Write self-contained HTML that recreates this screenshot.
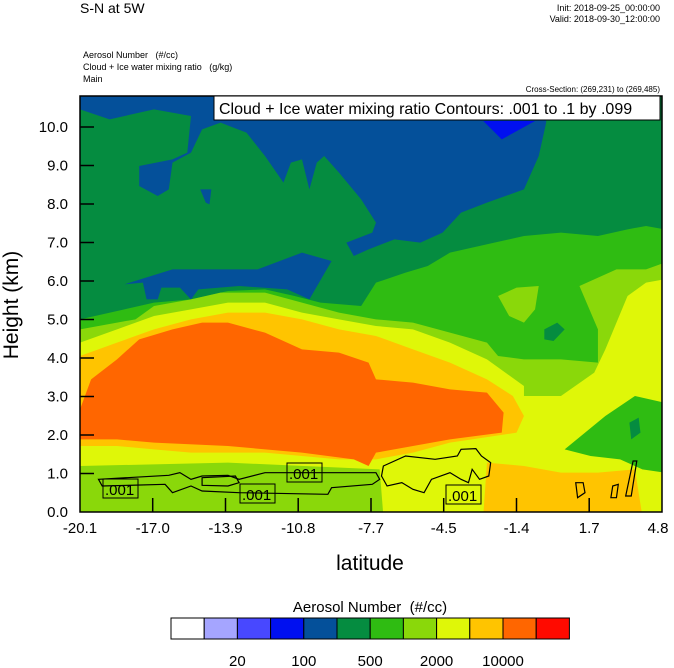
<!DOCTYPE html>
<html><head><meta charset="utf-8"><style>
body{margin:0;background:#fff;}
svg{display:block;font-family:"Liberation Sans",sans-serif;}
text{white-space:pre;}
</style></head><body>
<svg width="674" height="668" viewBox="0 0 674 668" xmlns="http://www.w3.org/2000/svg">
<text x="80" y="13" font-size="14">S-N at 5W</text>
<text x="660" y="11" font-size="9" text-anchor="end">Init: 2018-09-25_00:00:00</text>
<text x="660" y="22" font-size="9" text-anchor="end">Valid: 2018-09-30_12:00:00</text>
<text x="83" y="58" font-size="9">Aerosol Number   (#/cc)</text>
<text x="83" y="70" font-size="9">Cloud + Ice water mixing ratio   (g/kg)</text>
<text x="83" y="82" font-size="9">Main</text>
<text x="660" y="92" font-size="8" text-anchor="end">Cross-Section: (269,231) to (269,485)</text>
<defs><clipPath id="c"><rect x="0" y="0" width="1573" height="1249"/></clipPath></defs>
<g transform="translate(80,96) scale(0.36996,0.33333)" clip-path="url(#c)">
<rect x="0" y="0" width="1580" height="1260" fill="#058c40"/>
<path fill="#04509a" d="M0,0 L0,40 L80,70 L200,40 L300,60 L290,170 L250,190 L160,210 L160,270 L210,300 L240,280 L250,200 L300,170 L330,100 L380,80 L450,110 L500,180 L550,260 L570,200 L600,190 L620,280 L640,200 L660,180 L700,230 L760,310 L800,380 L790,410 L720,440 L740,480 L780,460 L850,430 L920,440 L980,410 L1030,350 L1100,320 L1200,280 L1240,180 L1260,80 L1260,0 Z"/>
<path fill="#04509a" d="M120,565 L250,520 L480,520 L600,470 L680,495 L620,610 L560,580 L430,570 L320,580 L300,610 L270,575 L220,575 L210,610 L180,610 L170,560 Z"/>
<path fill="#04509a" d="M325,280 L355,280 L350,325 L340,320 Z"/>
<path fill="#0010f0" d="M1090,75 L1230,75 L1140,130 Z"/>
<path fill="#2fbc12" d="M0,670 L120,640 L200,620 L300,610 L400,585 L500,580 L580,600 L650,620 L760,630 L800,560 L880,530 L940,510 L1000,470 L1060,455 L1120,440 L1200,420 L1300,410 L1400,420 L1480,400 L1530,390 L1580,400 L1580,1260 L0,1260 Z"/>
<path fill="#8ad80a" d="M0,700 L150,670 L200,630 L300,610 L380,590 L500,590 L600,620 L700,650 L800,670 L900,680 L1000,710 L1100,740 L1130,780 L1200,790 L1300,790 L1400,800 L1400,700 L1350,570 L1450,520 L1530,520 L1580,500 L1580,1260 L0,1260 Z"/>
<path fill="#8ad80a" d="M1130,600 L1180,575 L1240,570 L1230,640 L1200,680 L1160,660 Z"/>
<path fill="#058c40" d="M1255,700 L1290,680 L1310,700 L1280,735 L1255,730 Z"/>
<path fill="#dff708" d="M0,740 L100,700 L200,660 L300,640 L400,620 L500,620 L600,650 L700,670 L800,690 L900,700 L1000,740 L1100,790 L1200,870 L1200,900 L1300,900 L1390,830 L1420,760 L1480,600 L1530,560 L1580,550 L1580,1260 L0,1260 Z"/>
<path fill="#2fbc12" d="M1310,1060 L1420,960 L1500,900 L1580,920 L1580,1130 L1520,1120 L1460,1090 L1380,1080 Z"/>
<path fill="#058c40" d="M1485,980 L1510,965 L1515,1010 L1490,1030 Z"/>
<path fill="#ffc400" d="M0,780 L100,740 L200,700 L300,670 L400,650 L500,650 L600,670 L700,700 L800,720 L900,760 L1000,800 L1100,850 L1170,900 L1200,960 L1180,1010 L1120,1020 L1000,1040 L900,1070 L800,1090 L700,1090 L600,1080 L500,1070 L400,1070 L300,1070 L200,1060 L100,1050 L0,1050 Z"/>
<path fill="#ffc400" d="M1100,1100 L1200,1110 L1300,1130 L1400,1130 L1500,1120 L1520,1260 L1090,1260 Z"/>
<path fill="#ff6600" d="M0,940 L30,850 L100,790 L160,730 L250,700 L330,680 L400,680 L500,710 L600,760 L700,770 L780,800 L800,850 L900,860 L1000,880 L1100,890 L1145,950 L1140,1010 L1000,1030 L900,1050 L800,1070 L780,1110 L740,1090 L600,1070 L400,1050 L200,1040 L100,1030 L0,1030 Z"/>
<path fill="#8ad80a" d="M0,1110 L400,1100 L810,1120 L820,1260 L0,1260 Z"/>
<g fill="none" stroke="#000" stroke-width="1.2">
<path vector-effect="non-scaling-stroke" d="M50,1150 L240,1138 L270,1130 L300,1150 L330,1140 L400,1138 L430,1150 L500,1130 L800,1130 L810,1150 L790,1165 L680,1175 L670,1195 L430,1190 L330,1185 L300,1170 L250,1190 L230,1165 L60,1170 Z"/>
<path vector-effect="non-scaling-stroke" d="M330,1145 L420,1140 L430,1160 L400,1170 L330,1168 Z"/>
<path vector-effect="non-scaling-stroke" d="M820,1110 L880,1080 L960,1090 L1020,1080 L1030,1060 L1070,1058 L1085,1080 L1110,1100 L1105,1140 L1080,1150 L1060,1120 L1050,1160 L1030,1150 L1000,1130 L950,1150 L930,1190 L900,1180 L870,1160 L830,1170 L815,1140 Z"/>
<path vector-effect="non-scaling-stroke" d="M1340,1160 L1360,1160 L1365,1190 L1345,1205 Z"/>
<path vector-effect="non-scaling-stroke" d="M1440,1170 L1455,1165 L1450,1205 L1435,1205 Z"/>
<path vector-effect="non-scaling-stroke" d="M1495,1095 L1505,1095 L1490,1200 L1475,1200 Z"/>
</g>
</g>
<rect x="80" y="96" width="582" height="416" fill="none" stroke="#000" stroke-width="1.5"/>
<g font-size="15">
<rect x="103" y="479" width="35" height="19" fill="none" stroke="#000"/><text x="105" y="495">.001</text>
<rect x="240" y="484" width="35" height="19" fill="none" stroke="#000"/><text x="242" y="500">.001</text>
<rect x="287" y="463" width="35" height="19" fill="none" stroke="#000"/><text x="289" y="479">.001</text>
<rect x="446" y="485" width="35" height="19" fill="none" stroke="#000"/><text x="448" y="501">.001</text>
</g>
<rect x="214" y="96" width="446" height="24" fill="#fff" stroke="#000"/>
<text x="219" y="114" font-size="16">Cloud + Ice water mixing ratio Contours: .001 to .1 by .099</text>
<g stroke="#000" stroke-width="1.5">
<line x1="80" y1="127" x2="94" y2="127"/><line x1="80" y1="165.5" x2="94" y2="165.5"/><line x1="80" y1="204" x2="94" y2="204"/><line x1="80" y1="242.5" x2="94" y2="242.5"/><line x1="80" y1="281" x2="94" y2="281"/><line x1="80" y1="319.5" x2="94" y2="319.5"/><line x1="80" y1="358" x2="94" y2="358"/><line x1="80" y1="396.5" x2="94" y2="396.5"/><line x1="80" y1="435" x2="94" y2="435"/><line x1="80" y1="473.5" x2="94" y2="473.5"/>
<line x1="152.7" y1="512" x2="152.7" y2="498"/><line x1="225.5" y1="512" x2="225.5" y2="498"/><line x1="298.2" y1="512" x2="298.2" y2="498"/><line x1="371" y1="512" x2="371" y2="498"/><line x1="443.7" y1="512" x2="443.7" y2="498"/><line x1="516.5" y1="512" x2="516.5" y2="498"/><line x1="589.2" y1="512" x2="589.2" y2="498"/>
</g>
<g font-size="15" text-anchor="end">
<text x="68" y="132">10.0</text><text x="68" y="170.5">9.0</text><text x="68" y="209">8.0</text><text x="68" y="247.5">7.0</text><text x="68" y="286">6.0</text><text x="68" y="324.5">5.0</text><text x="68" y="363">4.0</text><text x="68" y="401.5">3.0</text><text x="68" y="440">2.0</text><text x="68" y="478.5">1.0</text><text x="68" y="517">0.0</text>
</g>
<g font-size="15" text-anchor="middle">
<text x="80" y="533">-20.1</text><text x="152.7" y="533">-17.0</text><text x="225.5" y="533">-13.9</text><text x="298.2" y="533">-10.8</text><text x="371" y="533">-7.7</text><text x="443.7" y="533">-4.5</text><text x="516.5" y="533">-1.4</text><text x="589.2" y="533">1.7</text><text x="658" y="533">4.8</text>
</g>
<text x="370" y="570" font-size="21" text-anchor="middle">latitude</text>
<text transform="translate(18,305) rotate(-90)" font-size="21" text-anchor="middle">Height (km)</text>
<text x="370" y="612" font-size="15" text-anchor="middle">Aerosol Number  (#/cc)</text>
<g stroke="#000" stroke-width="1">
<rect x="171" y="618" width="33.2" height="21" fill="#fff"/>
<rect x="204.2" y="618" width="33.2" height="21" fill="#a5a5ff"/>
<rect x="237.4" y="618" width="33.2" height="21" fill="#4848ff"/>
<rect x="270.6" y="618" width="33.2" height="21" fill="#0010f0"/>
<rect x="303.8" y="618" width="33.2" height="21" fill="#04509a"/>
<rect x="337" y="618" width="33.2" height="21" fill="#058c40"/>
<rect x="370.2" y="618" width="33.2" height="21" fill="#2fbc12"/>
<rect x="403.4" y="618" width="33.2" height="21" fill="#8ad80a"/>
<rect x="436.6" y="618" width="33.2" height="21" fill="#dff708"/>
<rect x="469.8" y="618" width="33.2" height="21" fill="#ffc400"/>
<rect x="503" y="618" width="33.2" height="21" fill="#ff6600"/>
<rect x="536.2" y="618" width="33.2" height="21" fill="#ff0a00"/>
</g>
<g font-size="15" text-anchor="middle">
<text x="237.4" y="666">20</text><text x="303.8" y="666">100</text><text x="370.2" y="666">500</text><text x="436.6" y="666">2000</text><text x="503" y="666">10000</text>
</g>
</svg>
</body></html>
